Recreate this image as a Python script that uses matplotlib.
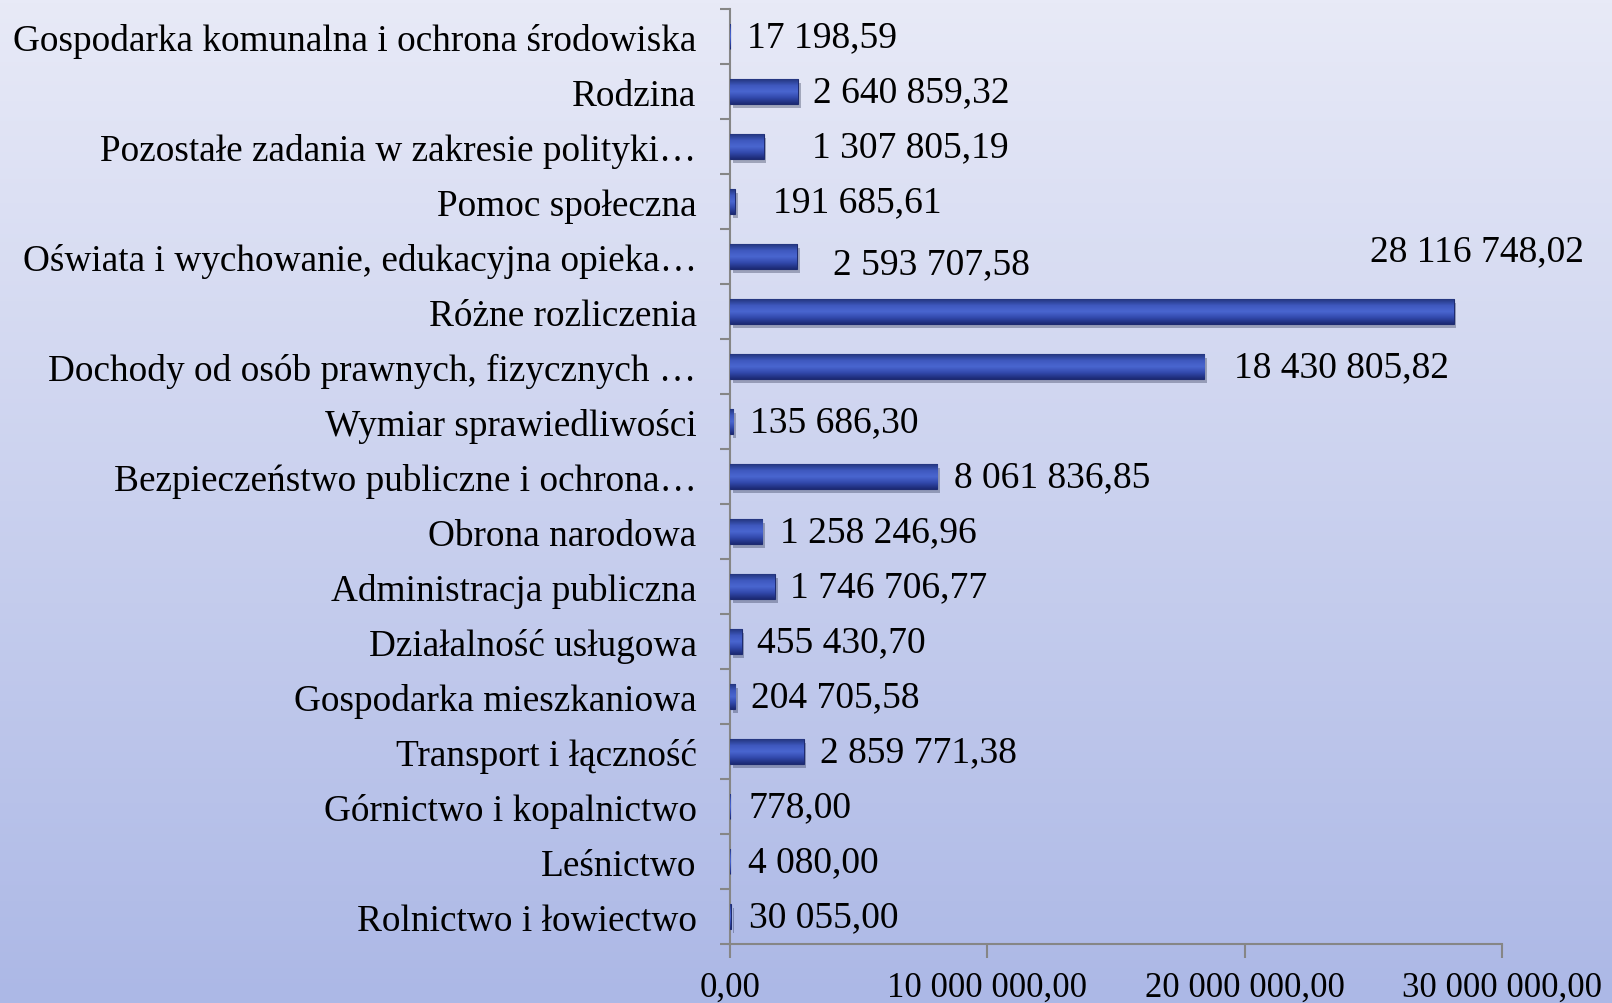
import numpy as np
import matplotlib.pyplot as plt
import matplotlib.patheffects as pe
from matplotlib.colors import LinearSegmentedColormap

# dane (od dołu wykresu do góry)
kategorie = [
    "Rolnictwo i łowiectwo",
    "Leśnictwo",
    "Górnictwo i kopalnictwo",
    "Transport i łączność",
    "Gospodarka mieszkaniowa",
    "Działalność usługowa",
    "Administracja publiczna",
    "Obrona narodowa",
    "Bezpieczeństwo publiczne i ochrona…",
    "Wymiar sprawiedliwości",
    "Dochody od osób prawnych, fizycznych …",
    "Różne rozliczenia",
    "Oświata i wychowanie, edukacyjna opieka…",
    "Pomoc społeczna",
    "Pozostałe zadania w zakresie polityki…",
    "Rodzina",
    "Gospodarka komunalna i ochrona środowiska",
]
wartosci = [
    30055.00, 4080.00, 778.00, 2859771.38, 204705.58, 455430.70,
    1746706.77, 1258246.96, 8061836.85, 135686.30, 18430805.82,
    28116748.02, 2593707.58, 191685.61, 1307805.19, 2640859.32, 17198.59,
]
x_ticks = [0, 10e6, 20e6, 30e6]

# przesunięcia etykiet wartości (piksele)
przesuniecia = [
    (18, 0), (18, 0), (18, 0), (16, 0), (16, 0), (15, 0), (15, 0), (18, 0),
    (17, 0), (17, 0), (30, 0), (23, 61), (36, -7), (38, 0), (48, 0), (15, 0), (17, 0),
]


def fmt(v):
    return f"{v:,.2f}".replace(",", " ").replace(".", ",")


plt.rcParams["font.family"] = ["Liberation Serif", "DejaVu Serif"]

fig = plt.figure(figsize=(16.12, 10.04), dpi=100)

# tło z gradientem
bg = fig.add_axes([0, 0, 1, 1], zorder=-10)
bg_cmap = LinearSegmentedColormap.from_list("bg", ["#ACB8E6", "#E8EAF7"])
bg.imshow(np.linspace(0, 1, 256).reshape(-1, 1)[::-1], cmap=bg_cmap, aspect="auto",
          extent=[0, 1, 0, 1])
bg.axis("off")

ax = fig.add_axes([730 / 1612, 1 - 945 / 1004, (1502 - 730) / 1612, (945 - 10) / 1004])
ax.set_facecolor("none")

y = np.arange(len(kategorie))
h = 0.45
bary = ax.barh(y, wartosci, height=h, color="#3650B4", edgecolor="#1E2B70", linewidth=0.8,
               zorder=3)

bar_cmap = LinearSegmentedColormap.from_list(
    "bar", ["#1C2A74", "#3249AC", "#4A66D0", "#3E58BE", "#24367F"])
grad = np.linspace(0, 1, 64).reshape(-1, 1)
for b, v, yy in zip(bary, wartosci, y):
    b.set_path_effects([pe.SimplePatchShadow(offset=(2, -3), alpha=0.3), pe.Normal()])
    im = ax.imshow(grad, cmap=bar_cmap, aspect="auto", origin="lower",
                   extent=[0, v, yy - h / 2, yy + h / 2], zorder=4)
    im.set_clip_path(b)

for v, yy, (dx, dy) in zip(wartosci, y, przesuniecia):
    ha = "center" if dy > 30 else "left"
    ax.annotate(fmt(v), (v, yy), xytext=(dx, dy), textcoords="offset pixels",
                ha=ha, va="center", fontsize=27, color="black", zorder=5)

ax.set_xlim(0, 30e6)
ax.set_ylim(-0.5, len(kategorie) - 0.5)

ax.set_xticks(x_ticks)
ax.set_xticklabels([fmt(t) for t in x_ticks], fontsize=25)
ax.set_yticks(np.arange(len(kategorie) + 1) - 0.5)
ax.set_yticklabels([])
ax.set_yticks(y, minor=True)
ax.set_yticklabels(kategorie, minor=True, fontsize=26.8)

ax.tick_params(axis="x", direction="out", length=10, width=1.5, color="#868686", pad=9)
ax.tick_params(axis="y", which="major", direction="out", length=7, width=1.5, color="#868686")
ax.tick_params(axis="y", which="minor", length=0, pad=24)

for s in ["top", "right"]:
    ax.spines[s].set_visible(False)
for s in ["left", "bottom"]:
    ax.spines[s].set_color("#868686")
    ax.spines[s].set_linewidth(1.5)

fig.savefig("out.png", dpi=100)
